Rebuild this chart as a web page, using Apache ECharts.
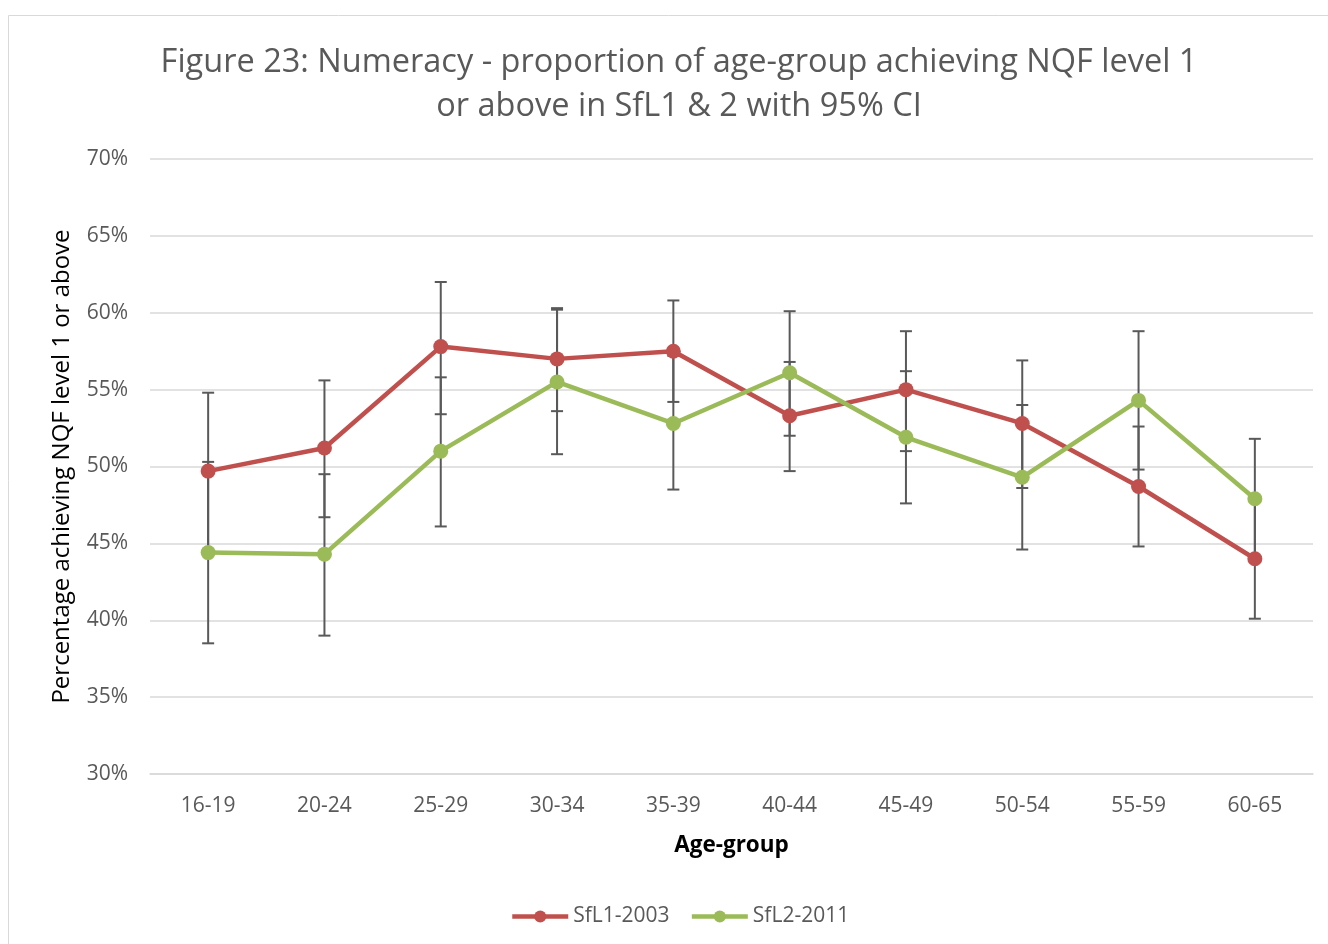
<!DOCTYPE html>
<html lang="en">
  <head>
    <meta charset="UTF-8" />
    <title>Figure 23</title>
    <script src="https://cdn.jsdelivr.net/npm/echarts@6/dist/echarts.min.js"></script>
    <style>
      html, body { margin: 0; padding: 0; background: #fff; }
      #chart { width: 1328px; height: 944px; }
    </style>
  </head>
  <body>
    <div id="chart"></div>
    <script>
      var ageGroups = ["16-19", "20-24", "25-29", "30-34", "35-39", "40-44", "45-49", "50-54", "55-59", "60-65"];
      var sfl1 = [49.7, 51.2, 57.8, 57.0, 57.5, 53.3, 55.0, 52.8, 48.7, 44.0];
      var sfl1Low = [44.6, 46.7, 53.4, 53.6, 54.2, 49.7, 51.0, 48.6, 44.8, 40.1];
      var sfl1High = [54.8, 55.6, 62.0, 60.3, 60.8, 56.8, 58.8, 56.9, 52.6, 47.9];
      var sfl2 = [44.4, 44.3, 51.0, 55.5, 52.8, 56.1, 51.9, 49.3, 54.3, 47.9];
      var sfl2Low = [38.5, 39.0, 46.1, 50.8, 48.5, 52.0, 47.6, 44.6, 49.8, 44.0];
      var sfl2High = [50.3, 49.5, 55.8, 60.2, 57.2, 60.1, 56.2, 54.0, 58.8, 51.8];

      var red = "#c0504d";
      var green = "#9bbb59";
      var font = "Open Sans";

      function errData(low, high) {
        return low.map(function (v, i) { return [i, v, high[i]]; });
      }

      // vertical whisker with caps, drawn under the lines
      function renderErr(params, api) {
        var lo = api.coord([api.value(0), api.value(1)]);
        var hi = api.coord([api.value(0), api.value(2)]);
        var w = 6;
        var st = { stroke: "#595959", lineWidth: 2 };
        return {
          type: "group",
          children: [
            { type: "line", shape: { x1: hi[0], y1: hi[1], x2: lo[0], y2: lo[1] }, style: st },
            { type: "line", shape: { x1: hi[0] - w, y1: hi[1], x2: hi[0] + w, y2: hi[1] }, style: st },
            { type: "line", shape: { x1: lo[0] - w, y1: lo[1], x2: lo[0] + w, y2: lo[1] }, style: st },
          ],
        };
      }

      var chart = echarts.init(document.getElementById("chart"));
      chart.setOption({
        animation: false,
        textStyle: { fontFamily: font },
        graphic: [
          {
            type: "rect",
            shape: { x: 8.5, y: 15.5, width: 1400, height: 1000 },
            style: { fill: "none", stroke: "#d9d9d9", lineWidth: 1 },
            silent: true,
          },
        ],
        title: {
          text: "Figure 23: Numeracy - proportion of age-group achieving NQF level 1\nor above in SfL1 & 2 with 95% CI",
          left: 674,
          top: 36,
          textAlign: "center",
          textStyle: { fontFamily: font, fontSize: 32.5, fontWeight: "normal", color: "#595959", lineHeight: 44 },
        },
        legend: {
          bottom: 12,
          left: 505,
          itemWidth: 56,
          itemHeight: 15,
          itemGap: 20,
          lineStyle: { width: 4.5 },
          textStyle: { fontFamily: font, fontSize: 21, color: "#595959" },
          data: ["SfL1-2003", "SfL2-2011"],
        },
        grid: { left: 150, right: 15, top: 159, bottom: 170 },
        xAxis: {
          type: "category",
          data: ageGroups,
          name: "Age-group",
          nameLocation: "middle",
          nameGap: 60,
          nameTextStyle: { fontFamily: font, fontSize: 22.5, fontWeight: "bold", color: "#000" },
          axisLine: { lineStyle: { color: "#d9d9d9", width: 1.5 } },
          axisTick: { show: false },
          axisLabel: { fontSize: 21, color: "#595959", margin: 22 },
        },
        yAxis: {
          type: "value",
          min: 30,
          max: 70,
          interval: 5,
          name: "Percentage achieving NQF level 1 or above",
          nameLocation: "middle",
          nameGap: 76,
          nameTextStyle: { fontFamily: font, fontSize: 24, color: "#000" },
          axisLine: { show: false },
          axisTick: { show: false },
          axisLabel: { formatter: "{value}%", fontSize: 21, color: "#595959", margin: 22 },
          splitLine: { lineStyle: { color: "#d9d9d9", width: 1.5 } },
        },
        series: [
          { type: "custom", name: "err1", renderItem: renderErr, data: errData(sfl1Low, sfl1High), z: 1, silent: true },
          { type: "custom", name: "err2", renderItem: renderErr, data: errData(sfl2Low, sfl2High), z: 1, silent: true },
          {
            name: "SfL1-2003",
            type: "line",
            data: sfl1,
            z: 3,
            symbol: "circle",
            symbolSize: 15,
            itemStyle: { color: red },
            lineStyle: { color: red, width: 4.5 },
          },
          {
            name: "SfL2-2011",
            type: "line",
            data: sfl2,
            z: 4,
            symbol: "circle",
            symbolSize: 15,
            itemStyle: { color: green },
            lineStyle: { color: green, width: 4.5 },
          },
        ],
      });
    </script>
  </body>
</html>
